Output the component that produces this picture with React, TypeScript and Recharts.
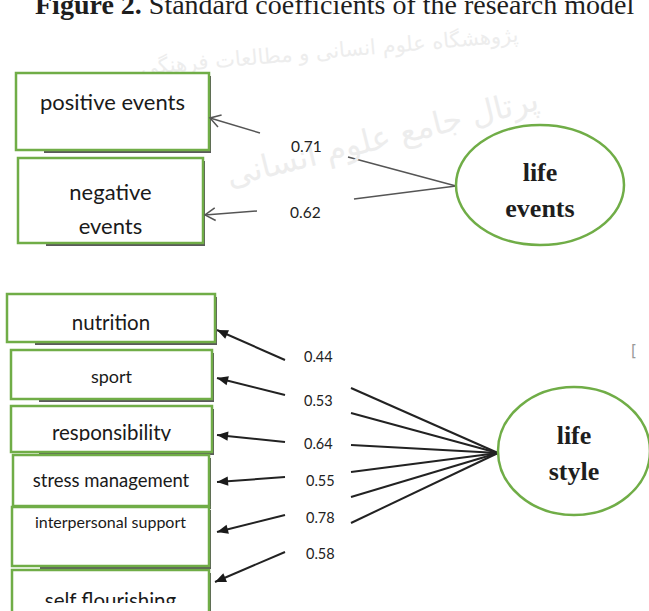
import { ScatterChart, Scatter, XAxis, YAxis, ReferenceLine } from "recharts";

const W = 649;
const H = 611;

const titleBold = "Figure 2.";
const titleText = "Standard coefficients of the research model";

const eventFactor = ["life", "events"];
const eventIndicators = ["positive events", "negative events"];
const eventCoefs = [0.71, 0.62];

const styleFactor = ["life", "style"];
const styleIndicators = [
  "nutrition",
  "sport",
  "responsibility",
  "stress management",
  "interpersonal support",
  "self flourishing",
];
const styleCoefs = [0.44, 0.53, 0.64, 0.55, 0.78, 0.58];

const watermark = ["پژوهشگاه علوم انسانی و مطالعات فرهنگی", "پرتال جامع علوم انسانی"];

// layout of the diagram (pixels == data units, axes are hidden)
const GREEN = "#70ad47";

const eventLayout = [
  { x: 16, y: 73, w: 193, h: 77, fs: 22, dy: [37], head: [210, 118], tail: [260, 133], from: [348, 157], lab: [291, 152] },
  { x: 18, y: 158, w: 185, h: 85, fs: 22, dy: [42, 76], wrap: true, head: [205, 215], tail: [257, 211], from: [354, 199], lab: [290, 218] },
];
const eventNode = { cx: 540, cy: 185, rx: 84, ry: 60, dy: [-4, 32], target: [456, 186] };

const styleLayout = [
  { x: 7, y: 294, w: 208, h: 48, fs: 20.5, dy: [36], head: [217, 330], tail: [285, 360], from: [351, 388], lab: [304, 362] },
  { x: 11, y: 350, w: 201, h: 49, fs: 18, dy: [33], head: [217, 378], tail: [285, 395], from: [351, 413], lab: [304, 406] },
  { x: 11, y: 406, w: 201, h: 46, fs: 20.5, dy: [34], clip: 35, head: [217, 435], tail: [285, 442], from: [351, 445], lab: [304, 449] },
  { x: 13, y: 455, w: 196, h: 51, fs: 18.5, dy: [32], head: [217, 482], tail: [285, 477], from: [351, 472], lab: [306, 486] },
  { x: 12, y: 507, w: 197, h: 59, fs: 16, dy: [21], head: [217, 532], tail: [285, 515], from: [351, 497], lab: [306, 523] },
  { x: 12, y: 570, w: 197, h: 50, fs: 20.5, dy: [38], clip: 33, head: [215, 582], tail: [285, 552], from: [351, 523], lab: [306, 559] },
];
const styleNode = { cx: 574, cy: 451, rx: 76, ry: 64, dy: [-7, 29], target: [498, 453] };

type Lay = (typeof styleLayout)[number] & { wrap?: boolean; clip?: number };

const boxData = (names: string[], lay: Lay[], key: string) =>
  names.map((name, i) => ({
    id: `${key}-${i}`,
    name,
    x: lay[i].x + lay[i].w / 2,
    y: lay[i].y + lay[i].h / 2,
    w: lay[i].w,
    h: lay[i].h,
    fs: lay[i].fs,
    dy: lay[i].dy,
    wrap: !!lay[i].wrap,
    clip: lay[i].clip,
  }));

const headData = (lay: Lay[]) =>
  lay.map((l) => ({
    x: l.head[0],
    y: l.head[1],
    angle: Math.atan2(l.tail[1] - l.head[1], l.tail[0] - l.head[0]),
  }));

const coefData = (coefs: number[], lay: Lay[]) =>
  coefs.map((v, i) => ({ x: lay[i].lab[0], y: lay[i].lab[1], v }));

function IndicatorBox(props: any) {
  const { cx, cy, payload } = props;
  const { w, h, fs, dy, wrap, clip, name, id } = payload;
  const left = cx - w / 2;
  const top = cy - h / 2;
  const lines: string[] = wrap ? name.split(" ") : [name];
  return (
    <g>
      {clip !== undefined && (
        <defs>
          <clipPath id={`clip-${id}`}>
            <rect x={left} y={top} width={w} height={clip} />
          </clipPath>
        </defs>
      )}
      <rect x={left + 28} y={top + 3} width={w - 26} height={h} fill="#5a5a5a" />
      <rect x={left} y={top} width={w} height={h} fill="#fff" stroke={GREEN} strokeWidth={2.5} />
      <g clipPath={clip !== undefined ? `url(#clip-${id})` : undefined}>
        {lines.map((t, i) => (
          <text
            key={i}
            x={cx}
            y={top + dy[i]}
            textAnchor="middle"
            fontFamily="Lato, 'Open Sans', sans-serif"
            fontSize={fs}
            fill="#1a1a1a"
          >
            {t}
          </text>
        ))}
      </g>
    </g>
  );
}

function FactorNode(props: any) {
  const { cx, cy, payload } = props;
  return (
    <g>
      <ellipse cx={cx} cy={cy} rx={payload.rx} ry={payload.ry} fill="#fff" stroke={GREEN} strokeWidth={2.5} />
      {payload.lines.map((t: string, i: number) => (
        <text
          key={i}
          x={cx}
          y={cy + payload.dy[i]}
          textAnchor="middle"
          fontFamily="'Liberation Serif', serif"
          fontWeight="bold"
          fontSize={26}
          fill="#1e1e1e"
        >
          {t}
        </text>
      ))}
    </g>
  );
}

function OpenHead(props: any) {
  const { cx, cy, payload } = props;
  const a = payload.angle;
  const L = 12;
  const s = 0.55;
  return (
    <path
      d={`M${cx + L * Math.cos(a - s)},${cy + L * Math.sin(a - s)} L${cx},${cy} L${cx + L * Math.cos(a + s)},${cy + L * Math.sin(a + s)}`}
      fill="none"
      stroke="#555"
      strokeWidth={1.5}
    />
  );
}

function SolidHead(props: any) {
  const { cx, cy, payload } = props;
  const a = payload.angle;
  const L = 12;
  const s = 0.4;
  return (
    <path
      d={`M${cx},${cy} L${cx + L * Math.cos(a - s)},${cy + L * Math.sin(a - s)} L${cx + L * Math.cos(a + s)},${cy + L * Math.sin(a + s)} Z`}
      fill="#1a1a1a"
    />
  );
}

const coefLabel = (fs: number) => (props: any) => (
  <text x={props.cx} y={props.cy} fontFamily="Lato, sans-serif" fontSize={fs} fill="#222">
    {props.payload.v.toFixed(2)}
  </text>
);

function Title(props: any) {
  return (
    <g>
      <text
        x={330}
        y={58}
        textAnchor="middle"
        fontFamily="'DejaVu Sans', sans-serif"
        fontSize={21}
        fill="#ededed"
        transform="rotate(-5 330 58)"
      >
        {watermark[0]}
      </text>
      <text
        x={385}
        y={148}
        textAnchor="middle"
        fontFamily="'DejaVu Sans', sans-serif"
        fontSize={32}
        fill="#ededed"
        transform="rotate(-14 385 148)"
      >
        {watermark[1]}
      </text>
      <text x={props.cx} y={props.cy} fontFamily="'Liberation Serif', serif" fontSize={28} fill="#1e1e1e">
        <tspan fontWeight="bold">{titleBold}</tspan> {titleText}
      </text>
      <text x={631} y={356} fontFamily="'DejaVu Sans', sans-serif" fontSize={15} fill="#999">
        [
      </text>
    </g>
  );
}

export default function App() {
  const eventBoxes = boxData(eventIndicators, eventLayout as Lay[], "ev");
  const styleBoxes = boxData(styleIndicators, styleLayout as Lay[], "st");
  const nodes = [
    { ...eventNode, x: eventNode.cx, y: eventNode.cy, lines: eventFactor },
    { ...styleNode, x: styleNode.cx, y: styleNode.cy, lines: styleFactor },
  ];

  return (
    <div style={{ position: "absolute", left: 0, top: 0, width: W, height: H, background: "#fff" }}>
      <ScatterChart width={W} height={H} margin={{ top: 0, right: 0, bottom: 0, left: 0 }}>
        <XAxis type="number" dataKey="x" domain={[0, W]} hide allowDataOverflow />
        <YAxis type="number" dataKey="y" domain={[0, H]} reversed hide allowDataOverflow />

        <Scatter data={[{ x: 35, y: 14 }]} shape={Title} isAnimationActive={false} />

        {eventLayout.map((l, i) => (
          <ReferenceLine
            key={`ea-${i}`}
            segment={[{ x: l.tail[0], y: l.tail[1] }, { x: l.head[0], y: l.head[1] }]}
            stroke="#555"
            strokeWidth={1.5}
            ifOverflow="visible"
          />
        ))}
        {eventLayout.map((l, i) => (
          <ReferenceLine
            key={`eb-${i}`}
            segment={[{ x: l.from[0], y: l.from[1] }, { x: eventNode.target[0], y: eventNode.target[1] }]}
            stroke="#555"
            strokeWidth={1.5}
            ifOverflow="visible"
          />
        ))}
        {styleLayout.map((l, i) => (
          <ReferenceLine
            key={`sa-${i}`}
            segment={[{ x: l.tail[0], y: l.tail[1] }, { x: l.head[0], y: l.head[1] }]}
            stroke="#222"
            strokeWidth={2}
            ifOverflow="visible"
          />
        ))}
        {styleLayout.map((l, i) => (
          <ReferenceLine
            key={`sb-${i}`}
            segment={[{ x: l.from[0], y: l.from[1] }, { x: styleNode.target[0], y: styleNode.target[1] }]}
            stroke="#222"
            strokeWidth={2}
            ifOverflow="visible"
          />
        ))}

        <Scatter data={eventBoxes} shape={IndicatorBox} isAnimationActive={false} />
        <Scatter data={styleBoxes} shape={IndicatorBox} isAnimationActive={false} />
        <Scatter data={nodes} shape={FactorNode} isAnimationActive={false} />
        <Scatter data={headData(eventLayout as Lay[])} shape={OpenHead} isAnimationActive={false} />
        <Scatter data={headData(styleLayout as Lay[])} shape={SolidHead} isAnimationActive={false} />
        <Scatter data={coefData(eventCoefs, eventLayout as Lay[])} shape={coefLabel(15.5)} isAnimationActive={false} />
        <Scatter data={coefData(styleCoefs, styleLayout as Lay[])} shape={coefLabel(14.5)} isAnimationActive={false} />
      </ScatterChart>
    </div>
  );
}
